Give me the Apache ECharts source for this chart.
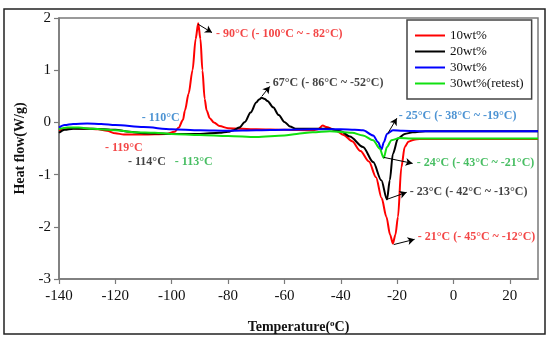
<!DOCTYPE html>
<html>
<head>
<meta charset="utf-8">
<script src="https://cdn.jsdelivr.net/npm/echarts@6/dist/echarts.min.js"></script>
<style>html,body{margin:0;padding:0;background:#fff;}#c{width:557px;height:343px;}</style>
</head>
<body>
<div id="c"></div>
<script>
// ---- data ----
const xTicks = [-140, -120, -100, -80, -60, -40, -20, 0, 20];
const yTicks = [-3, -2, -1, 0, 1, 2];
const seriesNames = ['10wt%', '20wt%', '30wt%', '30wt%(retest)'];

const temp10 = [-140,-138,-135,-130,-126,-123,-120,-117,-110,-102,-99,-97.5,-96,-95.3,-94,-92.6,-91.5,-90.6,-89.8,-89.1,-88.3,-87.6,-86.5,-85,-83,-80,-70,-60,-50,-48,-46.4,-45,-42,-39,-36,-33,-30,-27.5,-25.5,-23.8,-22.5,-21.5,-20.6,-19.7,-18.5,-17.3,-16,-14,-12,0,15,30];
const heat10 = [-0.16,-0.12,-0.11,-0.12,-0.13,-0.16,-0.21,-0.23,-0.23,-0.22,-0.18,-0.1,0.05,0.23,0.55,1.0,1.6,1.9,1.6,1.0,0.45,0.23,0.08,0.0,-0.07,-0.11,-0.13,-0.14,-0.15,-0.13,-0.06,-0.09,-0.15,-0.24,-0.36,-0.55,-0.75,-1.05,-1.45,-1.81,-2.15,-2.32,-2.15,-1.81,-0.86,-0.47,-0.37,-0.33,-0.32,-0.32,-0.32,-0.32];

const temp20 = [-140,-138,-135,-128,-120,-115,-110,-100,-90,-83,-80,-78,-76,-74,-72,-70,-69,-68.1,-67,-66,-64,-62,-60,-58,-56,-50,-44,-40,-36.8,-32.1,-28.5,-25.6,-23.6,-22.6,-21.5,-19.7,-17.3,-14.5,-10,0,15,30];
const heat20 = [-0.2,-0.14,-0.12,-0.12,-0.14,-0.18,-0.21,-0.22,-0.22,-0.2,-0.18,-0.15,-0.1,0.01,0.19,0.38,0.44,0.47,0.45,0.41,0.29,0.14,0.01,-0.08,-0.12,-0.12,-0.12,-0.17,-0.27,-0.47,-0.76,-1.11,-1.475,-1.11,-0.6,-0.31,-0.22,-0.19,-0.17,-0.17,-0.17,-0.17];

const temp30 = [-140,-138,-135,-130,-125,-120,-110,-100,-90,-80,-70,-60,-50,-40,-35,-32.1,-28.5,-26.7,-25.6,-24.7,-23.6,-21.5,-18,-10,0,15,30];
const heat30 = [-0.1,-0.05,-0.03,-0.02,-0.03,-0.05,-0.09,-0.13,-0.15,-0.16,-0.15,-0.14,-0.13,-0.13,-0.14,-0.15,-0.25,-0.38,-0.52,-0.38,-0.22,-0.15,-0.16,-0.17,-0.17,-0.17,-0.17];

const temp30r = [-140,-137,-133,-128,-120,-113,-106,-100,-90,-80,-70,-60,-55.7,-50,-43.9,-36,-32.1,-28.5,-26.2,-24.75,-23.6,-22,-19.1,-15,0,15,30];
const heat30r = [-0.13,-0.1,-0.1,-0.12,-0.15,-0.19,-0.2,-0.22,-0.24,-0.26,-0.28,-0.25,-0.22,-0.19,-0.17,-0.2,-0.25,-0.34,-0.5,-0.68,-0.47,-0.34,-0.3,-0.31,-0.31,-0.31,-0.31];

// annotation texts and their anchor (data coordinates)
const annTexts = ['- 90°C (- 100°C ~ - 82°C)','- 67°C (- 86°C ~ -52°C)','- 110°C','- 119°C','- 114°C','- 113°C','- 25°C (- 38°C ~ -19°C)','- 24°C (- 43°C ~ -21°C)','- 23°C (- 42°C ~ -13°C)','- 21°C (- 45°C ~ -12°C)'];
const annX = [-84.3,-66.6,-110.6,-123.7,-115.5,-98.9,-19.4,-13.05,-15.5,-12.7];
const annY = [1.70,0.75,0.08,-0.48,-0.75,-0.75,0.115,-0.785,-1.34,-2.20];
const annSeries = [0,1,2,0,1,3,2,3,1,0];
// arrows: from (x1,y1) to (x2,y2)
const arrX1 = [-90.6,-68,-23.3,-24.75,-23.7,-21.2];
const arrY1 = [1.88,0.5,-0.21,-0.67,-1.475,-2.34];
const arrX2 = [-85.7,-65.2,-20.1,-14.5,-16.6,-13.8];
const arrY2 = [1.72,0.69,0.08,-0.785,-1.34,-2.24];

// ---- styles ----
const lineColors = ['#ff0000', '#000000', '#0000ff', '#11e011'];
const textColors = ['#f01818', '#111111', '#1f78c8', '#1aae3c'];
const serif = '"Liberation Serif", "Times New Roman", serif';

function zip(a, b) { return a.map((v, i) => [v, b[i]]); }
const temps = [temp10, temp20, temp30, temp30r];
const heats = [heat10, heat20, heat30, heat30r];

const lineSeries = seriesNames.map((n, i) => ({
  name: n, type: 'line', data: zip(temps[i], heats[i]),
  symbol: 'none', smooth: 0.3, smoothMonotone: 'x',
  lineStyle: { color: lineColors[i], width: 2 }, itemStyle: { color: lineColors[i] },
  z: 3
}));

const annSeriesObj = {
  type: 'scatter', symbolSize: 0, silent: true, z: 5,
  data: annTexts.map((t, i) => ({
    value: [annX[i], annY[i]],
    label: { show: true, position: 'right', distance: 0, formatter: t,
      color: textColors[annSeries[i]], fontFamily: serif, fontWeight: 'bold', fontSize: 12 }
  })),
  markLine: {
    silent: true, symbol: ['none', 'arrow'], symbolSize: [6, 7], animation: false,
    lineStyle: { color: '#000', width: 1, type: 'solid' },
    label: { show: false },
    data: arrX1.map((x, i) => [{ coord: [x, arrY1[i]] }, { coord: [arrX2[i], arrY2[i]] }])
  }
};

const chart = echarts.init(document.getElementById('c'), null, { renderer: 'canvas' });
chart.setOption({
  animation: false,
  backgroundColor: '#fff',
  grid: { left: 59, top: 18, right: 19, bottom: 64, show: true, borderColor: '#7a7a7a', borderWidth: 1.5, backgroundColor: 'transparent' },
  legend: {
    data: seriesNames.map(n => ({ name: n, icon: 'rect' })),
    orient: 'vertical', left: 407, top: 20,
    padding: [8, 8, 8, 8], itemGap: 1, itemWidth: 30, itemHeight: 2, itemTextGap: 8,
    borderColor: '#444', borderWidth: 1.5, backgroundColor: '#fff',
    textStyle: { fontFamily: serif, fontSize: 13, color: '#111', lineHeight: 15 }
  },
  xAxis: {
    type: 'value', min: xTicks[0], max: 30, interval: 20,
    name: 'Temperature({sup|o}C)', nameLocation: 'middle', nameGap: 40,
    nameTextStyle: { fontFamily: serif, fontWeight: 'bold', fontSize: 14, color: '#111',
      rich: { sup: { fontFamily: serif, fontSize: 9, fontWeight: 'bold', verticalAlign: 'top', padding: [0, 0, 8, 0], color: '#111' } } },
    axisLine: { show: true, onZero: false, lineStyle: { color: '#7a7a7a', width: 1.5 } },
    axisTick: { show: true, inside: false, length: 5, lineStyle: { color: '#7a7a7a', width: 1.2 } },
    axisLabel: { fontFamily: serif, fontSize: 15, color: '#111', margin: 10, showMaxLabel: false,
      formatter: v => (xTicks.indexOf(v) >= 0 ? String(v) : '') },
    splitLine: { show: false }
  },
  yAxis: {
    type: 'value', min: yTicks[0], max: 2, interval: 1,
    name: 'Heat flow(W/g)', nameLocation: 'middle', nameGap: 29, nameRotate: 90,
    nameTextStyle: { fontFamily: serif, fontWeight: 'bold', fontSize: 14, color: '#111' },
    axisLine: { show: true, onZero: false, lineStyle: { color: '#7a7a7a', width: 1.5 } },
    axisTick: { show: true, inside: false, length: 5, lineStyle: { color: '#7a7a7a', width: 1.2 } },
    axisLabel: { fontFamily: serif, fontSize: 15, color: '#111', margin: 8 },
    splitLine: { show: false }
  },
  graphic: [{
    type: 'rect', shape: { x: 4, y: 9, width: 541, height: 325 },
    style: { fill: 'none', stroke: '#222', lineWidth: 1.5 }, silent: true, z: -1
  }],
  series: lineSeries.concat([annSeriesObj])
});
</script>
</body>
</html>
